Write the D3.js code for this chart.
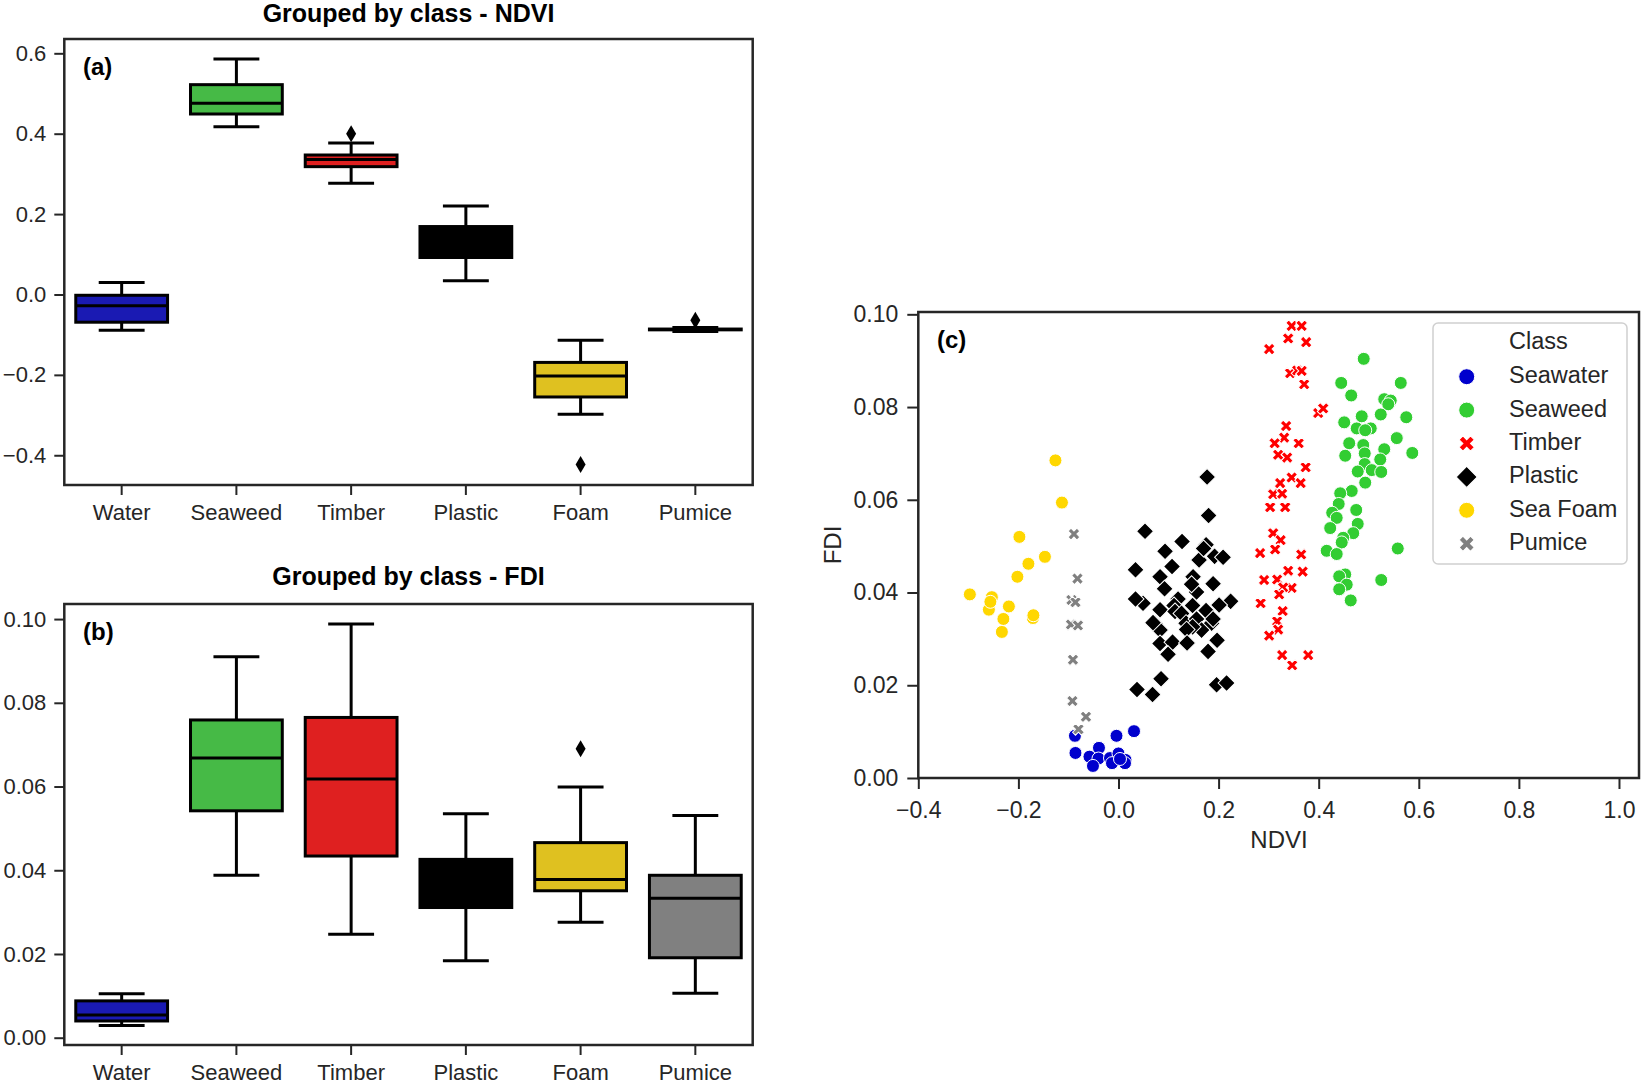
<!DOCTYPE html>
<meta charset="utf-8">
<style>
body { margin: 0; background: #fff; }
text { font-family: "Liberation Sans", Arial, sans-serif; }
.axis path, .axis line { stroke: #262626; }
.axis text { fill: #262626; }
</style>
<svg width="1642" height="1089"></svg>
<script src="https://d3js.org/d3.v7.min.js"></script>
<script>

// box plot classes
var boxClasses = ["Water", "Seaweed", "Timber", "Plastic", "Foam", "Pumice"];
var boxColors = ["#1a1ab3", "#46ba46", "#df2020", "#000000", "#dfc120", "#808080"];

// [low whisker, Q1, median, Q3, high whisker]
var ndviStats = [
  [-0.089, -0.069, -0.028, -0.002, 0.030],
  [0.417, 0.449, 0.476, 0.522, 0.586],
  [0.277, 0.318, 0.336, 0.347, 0.377],
  [0.034, 0.092, 0.130, 0.169, 0.220],
  [-0.298, -0.255, -0.203, -0.169, -0.114],
  [-0.092, -0.088, -0.087, -0.086, -0.082]
];
var ndviOutliers = [[2, 0.400], [4, -0.423], [5, -0.064]];

var fdiStats = [
  [0.0029, 0.0040, 0.0054, 0.0088, 0.0105],
  [0.0388, 0.0542, 0.0668, 0.0759, 0.0910],
  [0.0247, 0.0434, 0.0618, 0.0765, 0.0988],
  [0.0184, 0.0311, 0.0370, 0.0426, 0.0535],
  [0.0276, 0.0351, 0.0378, 0.0466, 0.0599],
  [0.0106, 0.0191, 0.0333, 0.0388, 0.0531]
];
var fdiOutliers = [[4, 0.0690]];

// scatter: [NDVI, FDI]
var seawater = [[-0.087, 0.0091], [-0.004, 0.0091], [0.031, 0.0101], [-0.086, 0.0054], [-0.039, 0.0065],
  [-0.058, 0.0046], [-0.040, 0.0042], [-0.017, 0.0043], [0.000, 0.0053], [-0.013, 0.0032],
  [0.014, 0.0039], [0.013, 0.0032], [-0.051, 0.0026], [0.003, 0.0041]];
var seaweed = [[0.490, 0.0904], [0.445, 0.0852], [0.564, 0.0852], [0.465, 0.0825], [0.531, 0.0817],
  [0.544, 0.0814], [0.539, 0.0806], [0.486, 0.0780], [0.524, 0.0784], [0.575, 0.0778],
  [0.451, 0.0767], [0.476, 0.0754], [0.504, 0.0754], [0.493, 0.0750], [0.556, 0.0733],
  [0.461, 0.0722], [0.489, 0.0718], [0.531, 0.0709], [0.587, 0.0701], [0.453, 0.0695],
  [0.492, 0.0700], [0.523, 0.0687], [0.492, 0.0677], [0.478, 0.0661], [0.506, 0.0664],
  [0.525, 0.0660], [0.493, 0.0637], [0.466, 0.0619], [0.443, 0.0614], [0.440, 0.0591],
  [0.475, 0.0578], [0.427, 0.0572], [0.436, 0.0561], [0.478, 0.0548], [0.423, 0.0539],
  [0.469, 0.0528], [0.449, 0.0518], [0.446, 0.0508], [0.416, 0.0490], [0.436, 0.0483],
  [0.558, 0.0495], [0.453, 0.0439], [0.441, 0.0435], [0.456, 0.0417], [0.441, 0.0407],
  [0.525, 0.0427], [0.464, 0.0383]];
var timber = [[0.346, 0.0975], [0.366, 0.0975], [0.339, 0.0948], [0.375, 0.0940], [0.301, 0.0925],
  [0.343, 0.0873], [0.357, 0.0879], [0.366, 0.0878], [0.371, 0.0849], [0.399, 0.0787],
  [0.409, 0.0797], [0.335, 0.0759], [0.331, 0.0734], [0.312, 0.0722], [0.360, 0.0722],
  [0.319, 0.0697], [0.337, 0.0691], [0.374, 0.0670], [0.346, 0.0648], [0.323, 0.0636],
  [0.364, 0.0636], [0.309, 0.0612], [0.327, 0.0613], [0.303, 0.0584], [0.333, 0.0584],
  [0.309, 0.0528], [0.324, 0.0513], [0.313, 0.0493], [0.283, 0.0485], [0.365, 0.0482],
  [0.339, 0.0447], [0.368, 0.0445], [0.291, 0.0427], [0.317, 0.0428], [0.346, 0.0410],
  [0.329, 0.0411], [0.321, 0.0396], [0.284, 0.0377], [0.328, 0.0360], [0.317, 0.0338],
  [0.319, 0.0320], [0.301, 0.0307], [0.327, 0.0265], [0.379, 0.0265], [0.347, 0.0243]];
var plastic = [[0.177, 0.0649], [0.180, 0.0566], [0.053, 0.0532], [0.127, 0.0510], [0.093, 0.0489],
  [0.175, 0.0503], [0.161, 0.0470], [0.192, 0.0478], [0.209, 0.0476], [0.034, 0.0449],
  [0.107, 0.0456], [0.083, 0.0434], [0.149, 0.0434], [0.189, 0.0419], [0.092, 0.0408],
  [0.156, 0.0401], [0.146, 0.0418], [0.049, 0.0377], [0.034, 0.0386], [0.119, 0.0386],
  [0.224, 0.0381], [0.201, 0.0373], [0.083, 0.0363], [0.148, 0.0372], [0.175, 0.0361],
  [0.111, 0.0372], [0.113, 0.0359], [0.126, 0.0355], [0.135, 0.0334], [0.156, 0.0343],
  [0.186, 0.0334], [0.073, 0.0333], [0.083, 0.0319], [0.166, 0.0319], [0.148, 0.0326],
  [0.189, 0.0343], [0.136, 0.0320], [0.083, 0.0290], [0.108, 0.0293], [0.137, 0.0291],
  [0.197, 0.0297], [0.099, 0.0267], [0.179, 0.0273], [0.085, 0.0214], [0.037, 0.0191],
  [0.068, 0.0180], [0.196, 0.0201], [0.216, 0.0205], [0.069, 0.0335], [0.170, 0.0495]];
var seaFoam = [[-0.126, 0.0685], [-0.113, 0.0594], [-0.198, 0.0520], [-0.147, 0.0477], [-0.180, 0.0462],
  [-0.202, 0.0434], [-0.297, 0.0396], [-0.253, 0.0390], [-0.219, 0.0370], [-0.259, 0.0363],
  [-0.230, 0.0343], [-0.171, 0.0345], [-0.170, 0.0351], [-0.233, 0.0315], [-0.256, 0.0380]];
var pumice = [[-0.089, 0.0526], [-0.082, 0.0430], [-0.094, 0.0384], [-0.086, 0.0379], [-0.095, 0.0331],
  [-0.081, 0.0329], [-0.091, 0.0255], [-0.092, 0.0166], [-0.065, 0.0132], [-0.080, 0.0105]];

var scatterClasses = ["Seawater", "Seaweed", "Timber", "Plastic", "Sea Foam", "Pumice"];
var scatterData = [seawater, seaweed, timber, plastic, seaFoam, pumice];
var scatterColors = ["#0000cd", "#32cd32", "#ff0000", "#000000", "#ffd700", "#808080"];
var scatterShapes = ["circle", "circle", "x", "diamond", "circle", "x"];

var svg = d3.select("svg");

function markerPath(shape, s) {
  if (shape === "circle") return d3.symbol(d3.symbolCircle, Math.PI * s * s / 4)();
  if (shape === "diamond") return d3.symbol(d3.symbolSquare, s * s / 2)();
  return d3.symbol(d3.symbolCross, 5 * Math.pow(s / 3, 2))();
}
function markerRot(shape) { return shape === "circle" ? 0 : 45; }

function boxPanel(top, bottom, domain, stats, outliers, fmt, ticks, title, titleY, tag, tagY) {
  var x = d3.scaleBand().domain(boxClasses).range([64.3, 752.7]);
  var y = d3.scaleLinear().domain(domain).range([bottom, top]);
  var g = svg.append("g");
  var bw = x.bandwidth() * 0.8;

  g.append("g").attr("class", "axis")
    .attr("transform", "translate(64.3,0)")
    .call(d3.axisLeft(y).tickValues(ticks).tickFormat(d3.format(fmt)).tickSize(10).tickPadding(8))
    .call(function(a) { a.select(".domain").remove(); })
    .selectAll("text").style("font-size", "22px");
  g.selectAll(".tick line").attr("stroke-width", 2);

  g.append("g").attr("class", "axis xax")
    .attr("transform", "translate(0," + bottom + ")")
    .call(d3.axisBottom(x).tickSize(10).tickPadding(9))
    .call(function(a) { a.select(".domain").remove(); })
    .selectAll("text").style("font-size", "22px");
  g.selectAll(".tick line").attr("stroke-width", 2);

  var box = g.selectAll(".box").data(stats).enter().append("g")
    .attr("transform", function(d, i) { return "translate(" + (x(boxClasses[i]) + x.bandwidth() / 2) + ",0)"; });
  box.append("line").attr("y1", function(d) { return y(d[3]); }).attr("y2", function(d) { return y(d[4]); })
    .attr("stroke", "#000").attr("stroke-width", 3);
  box.append("line").attr("y1", function(d) { return y(d[1]); }).attr("y2", function(d) { return y(d[0]); })
    .attr("stroke", "#000").attr("stroke-width", 3);
  box.append("line").attr("x1", -bw / 4).attr("x2", bw / 4)
    .attr("y1", function(d) { return y(d[4]); }).attr("y2", function(d) { return y(d[4]); })
    .attr("stroke", "#000").attr("stroke-width", 3);
  box.append("line").attr("x1", -bw / 4).attr("x2", bw / 4)
    .attr("y1", function(d) { return y(d[0]); }).attr("y2", function(d) { return y(d[0]); })
    .attr("stroke", "#000").attr("stroke-width", 3);
  box.append("rect").attr("x", -bw / 2).attr("width", bw)
    .attr("y", function(d) { return y(d[3]); })
    .attr("height", function(d) { return Math.max(0.5, y(d[1]) - y(d[3])); })
    .attr("fill", function(d, i) { return boxColors[i]; })
    .attr("stroke", "#000").attr("stroke-width", 3);
  box.append("line").attr("x1", -bw / 2).attr("x2", bw / 2)
    .attr("y1", function(d) { return y(d[2]); }).attr("y2", function(d) { return y(d[2]); })
    .attr("stroke", "#000").attr("stroke-width", 3);

  g.selectAll(".out").data(outliers).enter().append("path")
    .attr("d", "M0,-8.5L5,0L0,8.5L-5,0Z")
    .attr("transform", function(d) { return "translate(" + (x(boxClasses[d[0]]) + x.bandwidth() / 2) + "," + y(d[1]) + ")"; })
    .attr("fill", "#000");

  g.append("rect").attr("x", 64.3).attr("y", top).attr("width", 752.7 - 64.3).attr("height", bottom - top)
    .attr("fill", "none").attr("stroke", "#262626").attr("stroke-width", 2.5);

  svg.append("text").attr("x", 408.5).attr("y", titleY).attr("text-anchor", "middle")
    .style("font-size", "25px").style("font-weight", "bold").text(title);
  svg.append("text").attr("x", 83).attr("y", tagY)
    .style("font-size", "24px").style("font-weight", "bold").text(tag);
}

boxPanel(39, 485, [-0.474, 0.6356], ndviStats, ndviOutliers, ".1f",
  [-0.4, -0.2, 0, 0.2, 0.4, 0.6], "Grouped by class - NDVI", 22, "(a)", 75);
boxPanel(604, 1045, [-0.00174, 0.1036], fdiStats, fdiOutliers, ".2f",
  [0, 0.02, 0.04, 0.06, 0.08, 0.10], "Grouped by class - FDI", 585, "(b)", 640);

// scatter panel
var sx = d3.scaleLinear().domain([-0.4, 1.04]).range([918.3, 1639]);
var sy = d3.scaleLinear().domain([0, 0.1005]).range([778, 312]);
var sg = svg.append("g");

sg.append("g").attr("class", "axis")
  .attr("transform", "translate(918.3,0)")
  .call(d3.axisLeft(sy).tickValues([0, 0.02, 0.04, 0.06, 0.08, 0.10]).tickFormat(d3.format(".2f")).tickSize(11).tickPadding(9))
  .call(function(a) { a.select(".domain").remove(); })
  .selectAll("text").style("font-size", "23px");
sg.append("g").attr("class", "axis")
  .attr("transform", "translate(0,778)")
  .call(d3.axisBottom(sx).tickValues([-0.4, -0.2, 0, 0.2, 0.4, 0.6, 0.8, 1.0]).tickFormat(d3.format(".1f")).tickSize(11).tickPadding(13))
  .call(function(a) { a.select(".domain").remove(); })
  .selectAll("text").style("font-size", "23px");
sg.selectAll(".tick line").attr("stroke-width", 2);

scatterData.forEach(function(pts, i) {
  sg.append("g").selectAll("path").data(pts).enter().append("path")
    .attr("d", markerPath(scatterShapes[i], scatterShapes[i] === "diamond" ? 17 : (scatterShapes[i] === "x" ? 12.5 : 13)))
    .attr("transform", function(d) { return "translate(" + sx(d[0]) + "," + sy(d[1]) + ") rotate(" + markerRot(scatterShapes[i]) + ")"; })
    .attr("fill", scatterColors[i])
    .attr("stroke", "#fff").attr("stroke-width", 1);
});

sg.append("rect").attr("x", 918.3).attr("y", 312).attr("width", 1639 - 918.3).attr("height", 778 - 312)
  .attr("fill", "none").attr("stroke", "#262626").attr("stroke-width", 2.5);

sg.append("text").attr("x", 937).attr("y", 348)
  .style("font-size", "24px").style("font-weight", "bold").text("(c)");
sg.append("text").attr("x", 1279).attr("y", 848).attr("text-anchor", "middle")
  .style("font-size", "24px").attr("fill", "#262626").text("NDVI");
sg.append("text").attr("transform", "translate(841,545) rotate(-90)").attr("text-anchor", "middle")
  .style("font-size", "24px").attr("fill", "#262626").text("FDI");

// legend
var lg = sg.append("g");
lg.append("rect").attr("x", 1433).attr("y", 323).attr("width", 194).attr("height", 241).attr("rx", 5)
  .attr("fill", "#fff").attr("fill-opacity", 0.8).attr("stroke", "#d0d0d0").attr("stroke-width", 1.5);
lg.append("text").attr("x", 1509).attr("y", 349).style("font-size", "23.5px").attr("fill", "#262626").text("Class");
var li = lg.selectAll(".li").data(scatterClasses).enter().append("g")
  .attr("transform", function(d, i) { return "translate(0," + (376.7 + i * 33.4) + ")"; });
li.append("path")
  .attr("d", function(d, i) { return markerPath(scatterShapes[i], scatterShapes[i] === "diamond" ? 21 : 16); })
  .attr("transform", function(d, i) { return "translate(1466.7,0) rotate(" + markerRot(scatterShapes[i]) + ")"; })
  .attr("fill", function(d, i) { return scatterColors[i]; })
  .attr("stroke", "#fff").attr("stroke-width", 1);
li.append("text").attr("x", 1509).attr("y", 6.5).style("font-size", "23.5px").attr("fill", "#262626")
  .text(function(d) { return d; });

</script>
